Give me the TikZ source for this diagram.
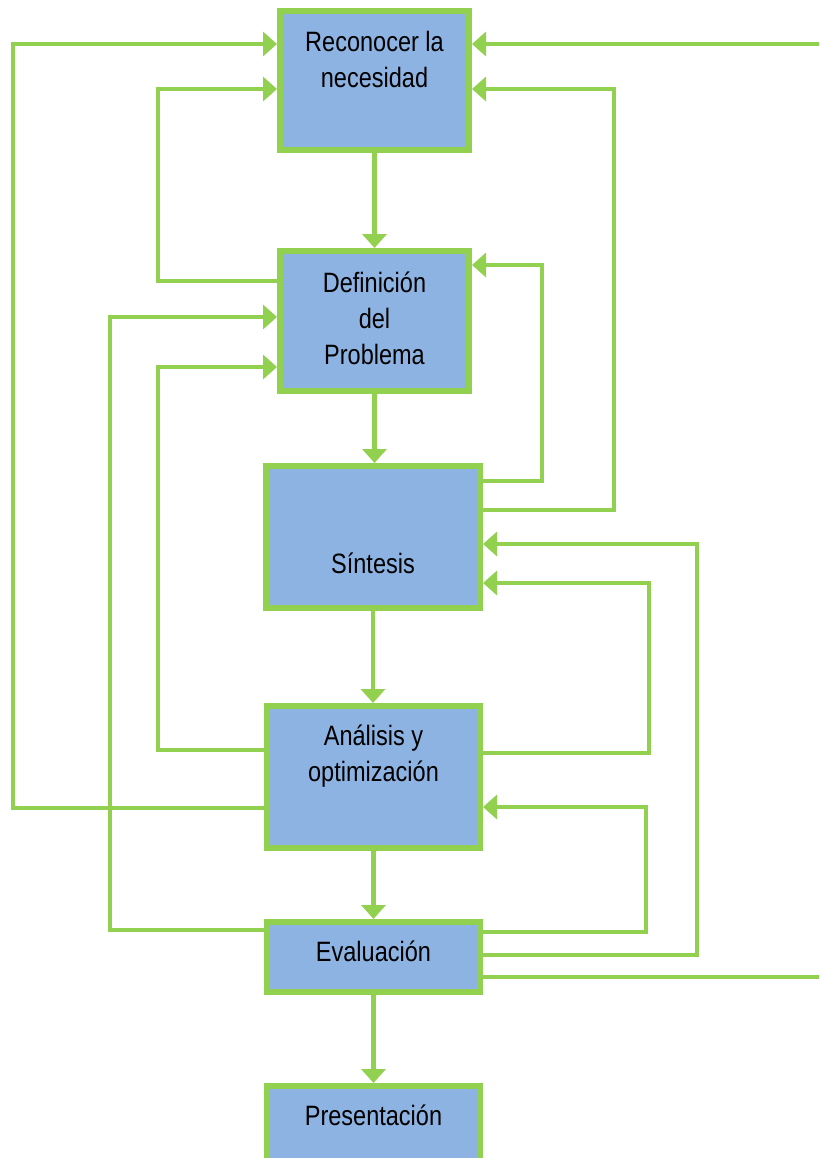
\documentclass[tikz,border=0pt]{standalone}
\usepackage{fontspec}
\setmainfont{Liberation Sans}[FakeStretch=0.84]
\usepackage{xcolor}
\usepackage{tikz}
\usetikzlibrary{arrows.meta,positioning}

\definecolor{linegreen}{HTML}{92D050}
\definecolor{boxblue}{HTML}{8DB3E2}

\begin{document}
\begin{tikzpicture}[x=0.75pt,y=-0.75pt,
    box/.style={draw=linegreen,line width=4.5pt,fill=boxblue,inner sep=0pt},
    txt/.style={align=center,font=\fontsize{21}{27}\selectfont,inner sep=0pt},
    flow/.style={draw=linegreen,line width=3.4pt,
        -{Triangle[length=10.5pt,width=18pt]}}]
    \clip (0,0) rectangle (819,1158);

    % Boxes
    \node[box,minimum width=141.75pt,minimum height=104.25pt] (recon) at (374.5,80.5) {};
    \node[box,minimum width=141.75pt,minimum height=105pt] (def) at (374.5,321) {};
    \node[box,minimum width=160.5pt,minimum height=106.5pt] (sint) at (373,537) {};
    \node[box,minimum width=159.75pt,minimum height=106.5pt] (anal) at (373.5,777) {};
    \node[box,minimum width=159.75pt,minimum height=52.5pt] (eval) at (373.5,957) {};
    \node[box,minimum width=159.75pt,minimum height=105pt] (pres) at (373.5,1156) {};

    % Texts
    \node[txt] (recon-txt) at (374.5,59) {Reconocer la\\necesidad};
    \node[txt] (def-txt) at (374.5,318) {Definición\\del\\Problema};
    \node[txt] (sint-txt) at (373,563) {Síntesis};
    \node[txt] (anal-txt) at (373.5,756) {Análisis y\\optimización};
    \node[txt] (eval-txt) at (373.5,951) {Evaluación};
    \node[txt] (pres-txt) at (373.5,1115) {Presentación};

    % Main sequence
    \draw[flow] (recon.south) -- (recon.south |- def.north);
    \draw[flow] (def.south) -- (def.south |- sint.north);
    \draw[flow] (sint.south) -- (sint.south |- anal.north);
    \draw[flow] (anal.south) -- (anal.south |- eval.north);
    \draw[flow] (eval.south) -- (eval.south |- pres.north);

    % Feedback, left side
    \draw[flow] (anal.west |- 0,808) -| (13,44) -- (recon.west |- 0,44);
    \draw[flow] (def.west |- 0,281) -| (158,89) -- (recon.west |- 0,89);
    \draw[flow] (eval.west |- 0,930) -| (110,317) -- (def.west |- 0,317);
    \draw[flow] (anal.west |- 0,750) -| (158,367) -- (def.west |- 0,367);

    % Feedback, right side
    \draw[flow] (sint.east |- 0,481) -| (542,265) -- (def.east |- 0,265);
    \draw[flow] (sint.east |- 0,510) -| (614,89) -- (recon.east |- 0,89);
    \draw[flow] (anal.east |- 0,753) -| (649,583) -- (sint.east |- 0,583);
    \draw[flow] (eval.east |- 0,932) -| (646,807) -- (anal.east |- 0,807);
    \draw[flow] (eval.east |- 0,955) -| (697,544) -- (sint.east |- 0,544);
    \draw[flow] (eval.east |- 0,977) -| (840,44) -- (recon.east |- 0,44);
\end{tikzpicture}
\end{document}
